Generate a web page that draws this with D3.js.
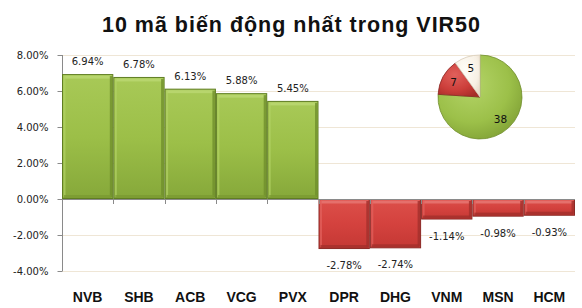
<!DOCTYPE html>
<html><head><meta charset="utf-8">
<script src="https://cdn.jsdelivr.net/npm/d3@7"></script>
<style>body{margin:0;background:#fff}svg{display:block}</style>
</head><body>
<svg id="c" width="582" height="308"></svg>
<script>
const categories = ["NVB","SHB","ACB","VCG","PVX","DPR","DHG","VNM","MSN","HCM"];
const values = [6.94,6.78,6.13,5.88,5.45,-2.78,-2.74,-1.14,-0.98,-0.93];
const yTicks = [-4,-2,0,2,4,6,8];
const pieLabels = ["Tăng","Giảm","Đứng giá"];
const pieValues = [38,7,5];
const title = "10 mã biến động nhất trong VIR50";

const fmt = v => d3.format(".2f")(v).replace("\u2212","-") + "%";
const svg = d3.select("#c");
const x = d3.scaleBand().domain(categories).range([62,575]).padding(0);
const y = d3.scaleLinear().domain([-4,8]).range([271,55]);

const defs = svg.append("defs");
function lg(id, stops, x2, y2){
  const g = defs.append("linearGradient").attr("id",id).attr("x1",0).attr("y1",0).attr("x2",x2).attr("y2",y2);
  stops.forEach(s=>g.append("stop").attr("offset",s[0]).attr("stop-color",s[1]));
}
lg("gG",[[0,"#a8c957"],[0.5,"#9cbf48"],[1,"#86a83a"]],0,1);
lg("gR",[[0,"#dc4f4a"],[0.5,"#d4423e"],[1,"#c43834"]],0,1);
const rg = (id, stops)=>{const g=defs.append("radialGradient").attr("id",id).attr("cx","40%").attr("cy","35%").attr("r","75%").attr("gradientUnits","objectBoundingBox");stops.forEach(s=>g.append("stop").attr("offset",s[0]).attr("stop-color",s[1]));};

// title
svg.append("text").attr("x",291).attr("y",32).attr("text-anchor","middle")
  .attr("font-family","Liberation Sans, Arial, sans-serif").attr("font-weight","bold")
  .attr("font-size",21.5).attr("textLength",378).attr("lengthAdjust","spacing")
  .attr("fill","#111").text(title);

// grid
svg.append("g").selectAll("line").data(yTicks.filter(t=>t!==0)).join("line")
  .attr("x1",62).attr("x2",575).attr("y1",d=>y(d)+0.5).attr("y2",d=>y(d)+0.5)
  .attr("stroke","#efe6d6").attr("stroke-width",1);

// y axis
const yAxis = d3.axisLeft(y).tickValues(yTicks).tickSize(5).tickPadding(9).tickFormat(fmt);
const ga = svg.append("g").attr("transform","translate(62.5,0)").call(yAxis);
ga.select(".domain").attr("stroke","#8a8a8a").attr("d",`M-0,${y(8)}V${y(-4)}`);
ga.selectAll(".tick line").attr("stroke","#8a8a8a");
ga.selectAll(".tick text").attr("font-family","DejaVu Sans, Verdana, sans-serif").attr("font-size",10).attr("fill","#222");

// bars
const bars = svg.append("g");
categories.forEach((c,i)=>{
  const v = values[i];
  const x0 = x(c), w = x.bandwidth();
  const yt = y(Math.max(0,v)), yb = y(Math.min(0,v));
  const pos = v>=0;
  const g = bars.append("g");
  g.append("rect").attr("x",x0+0.5).attr("y",yt+0.5).attr("width",w-1).attr("height",yb-yt-1)
    .attr("fill",pos?"url(#gG)":"url(#gR)").attr("stroke",pos?"#5f7d22":"#8a2a26").attr("stroke-width",1);
  g.append("rect").attr("x",x0+2).attr("y",yt+1.5).attr("width",w-4).attr("height",3)
    .attr("fill",pos?"#b9d670":"#e67470").attr("opacity",0.9);
  g.append("rect").attr("x",x0+1.5).attr("y",yt+2).attr("width",2).attr("height",Math.max(0,yb-yt-4))
    .attr("fill",pos?"#b2d165":"#e2625e").attr("opacity",0.7);
  g.append("rect").attr("x",x0+w-3.5).attr("y",yt+2).attr("width",2.5).attr("height",Math.max(0,yb-yt-4))
    .attr("fill",pos?"#6f8f2c":"#a3302c").attr("opacity",0.8);
  g.append("rect").attr("x",x0+2).attr("y",yb-4).attr("width",w-4).attr("height",3)
    .attr("fill",pos?"#7a9a32":"#a3302c").attr("opacity",0.8);
  g.append("text").attr("x",x0+w/2).attr("y",pos?yt-9:yb+20).attr("text-anchor","middle")
    .attr("font-family","DejaVu Sans, Verdana, sans-serif").attr("font-size",10).attr("fill","#222")
    .text(fmt(v));
});

// x axis line and ticks at zero
svg.append("line").attr("x1",62).attr("x2",575).attr("y1",y(0)+0.5).attr("y2",y(0)+0.5).attr("stroke","#8a8a8a");
svg.append("g").selectAll("line").data(categories.slice(1)).join("line")
  .attr("x1",d=>Math.round(x(d))+0.5).attr("x2",d=>Math.round(x(d))+0.5)
  .attr("y1",y(0)).attr("y2",y(0)+5).attr("stroke","#8a8a8a");
svg.append("g").selectAll("text").data(categories).join("text")
  .attr("x",d=>x(d)+x.bandwidth()/2).attr("y",302).attr("text-anchor","middle")
  .attr("font-family","Liberation Sans, Arial, sans-serif").attr("font-weight","bold").attr("font-size",14)
  .attr("fill","#111").text(d=>d);

// pie
rg("pG",[[0,"#b4d468"],[0.6,"#9cc049"],[1,"#7d9d33"]]);
rg("pR",[[0,"#e0605b"],[0.6,"#cc3e3a"],[1,"#a52c28"]]);
rg("pW",[[0,"#fffdf8"],[0.7,"#f7f0e4"],[1,"#e8dccb"]]);
const pie = d3.pie().sort(null).value(d=>d)(pieValues);
const r = 42;
const arc = d3.arc().innerRadius(0).outerRadius(r);
const larc = d3.arc().innerRadius(30).outerRadius(30);
const pg = svg.append("g").attr("transform","translate(480,97)");
const fills = ["url(#pG)","url(#pR)","url(#pW)"];
const strokes = ["#6f8d2a","#8a2a26","#d8ccb8"];
pg.selectAll("path").data(pie).join("path").attr("d",arc)
  .attr("fill",(d,i)=>fills[i]).attr("stroke",(d,i)=>strokes[i]).attr("stroke-width",0.8);
pg.selectAll("text").data(pie).join("text")
  .attr("transform",d=>`translate(${larc.centroid(d)})`).attr("dy","0.35em").attr("text-anchor","middle")
  .attr("font-family","DejaVu Sans, Verdana, sans-serif").attr("font-size",10.5).attr("fill","#111")
  .text(d=>d.data);
</script>
</body></html>
